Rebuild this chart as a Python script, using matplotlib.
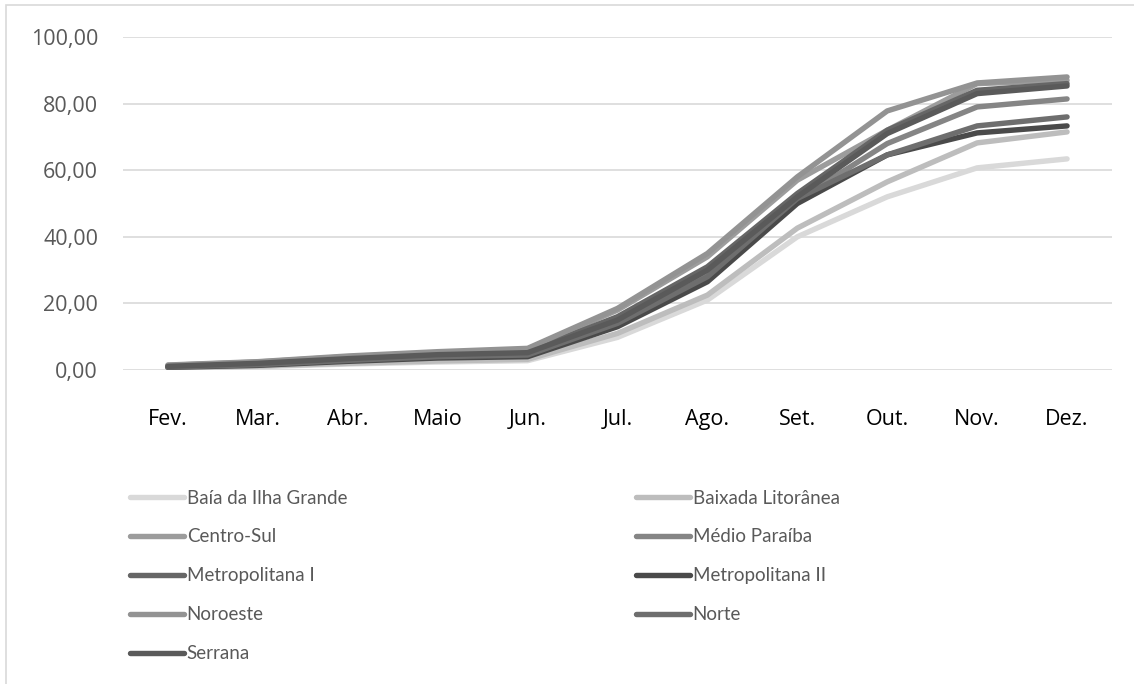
import matplotlib.pyplot as plt
from matplotlib.patches import Rectangle
from matplotlib.lines import Line2D

months = ["Fev.", "Mar.", "Abr.", "Maio", "Jun.", "Jul.", "Ago.", "Set.", "Out.", "Nov.", "Dez."]

# cumulative values per region
baia_ilha_grande = [0.5, 1.0, 1.8, 2.4, 2.8, 9.8, 21.0, 40.0, 52.0, 60.7, 63.4]
baixada_litoranea = [0.6, 1.2, 2.0, 2.7, 3.2, 11.0, 22.5, 42.6, 56.5, 68.2, 71.5]
centro_sul = [1.4, 2.4, 4.0, 5.2, 6.2, 18.0, 34.0, 57.0, 72.0, 86.0, 87.0]
medio_paraiba = [1.0, 1.8, 3.2, 4.3, 5.0, 14.5, 29.0, 51.0, 68.0, 79.0, 81.4]
metropolitana_1 = [1.2, 2.1, 3.6, 4.8, 5.5, 16.0, 31.0, 53.0, 72.0, 84.0, 86.0]
metropolitana_2 = [0.8, 1.4, 2.6, 3.6, 4.0, 13.0, 26.5, 50.0, 64.6, 71.2, 73.3]
noroeste = [1.5, 2.5, 4.2, 5.5, 6.5, 18.5, 35.0, 58.0, 77.8, 86.2, 88.0]
norte = [0.9, 1.6, 2.9, 4.0, 4.5, 14.0, 28.0, 51.5, 64.6, 73.3, 76.0]
serrana = [1.1, 2.0, 3.4, 4.6, 5.2, 15.0, 30.0, 52.0, 71.0, 83.0, 85.3]

series = [
    ("Baía da Ilha Grande", baia_ilha_grande, "#d9d9d9"),
    ("Baixada Litorânea", baixada_litoranea, "#bdbdbd"),
    ("Centro-Sul", centro_sul, "#9c9c9c"),
    ("Médio Paraíba", medio_paraiba, "#858585"),
    ("Metropolitana I", metropolitana_1, "#666666"),
    ("Metropolitana II", metropolitana_2, "#4a4a4a"),
    ("Noroeste", noroeste, "#939393"),
    ("Norte", norte, "#6e6e6e"),
    ("Serrana", serrana, "#5a5a5a"),
]

plt.rcParams['font.family'] = ['Open Sans', 'DejaVu Sans']

fig = plt.figure(figsize=(11.34, 6.84), dpi=100)
ax = fig.add_axes([123 / 1134, 1 - 370 / 684, (1112 - 123) / 1134, 333 / 684])

x = list(range(len(months)))
handles = {}
for name, vals, color in series:
    ln, = ax.plot(x, vals, color=color, lw=3.9, solid_capstyle="round",
                  solid_joinstyle="round", label=name, zorder=3)
    handles[name] = ln

ax.set_xlim(-0.5, len(months) - 0.5)
ax.set_ylim(0, 100)
ax.set_yticks([0, 20, 40, 60, 80, 100])
ax.set_yticklabels(["0,00", "20,00", "40,00", "60,00", "80,00", "100,00"])
ax.set_xticks(x)
ax.set_xticklabels(months)
ax.grid(axis="y", color="#d9d9d9", lw=1.2, zorder=0)
ax.tick_params(axis="y", length=0, pad=18, labelsize=15.5, labelcolor="#595959")
ax.tick_params(axis="x", length=0, pad=28, labelsize=15.5, labelcolor="#000000")
for s in ax.spines.values():
    s.set_visible(False)

# chart frame
fig.patches.append(Rectangle((6 / 1134, -0.1), 1.2, 1 - 5 / 684 + 0.1,
                             transform=fig.transFigure, fill=False,
                             edgecolor="#d9d9d9", lw=1.2, clip_on=False))

left = ["Baía da Ilha Grande", "Centro-Sul", "Metropolitana I", "Noroeste", "Serrana"]
right = ["Baixada Litorânea", "Médio Paraíba", "Metropolitana II", "Norte"]
for names, x0 in ((left, 122 / 1134), (right, 628 / 1134)):
    hs = [Line2D([], [], color=handles[n].get_color(), lw=3.9, solid_capstyle="round") for n in names]
    fig.legend(hs, names, loc="upper left", bbox_to_anchor=(x0, 1 - 482 / 684),
               frameon=False, handlelength=2.9, handletextpad=0.15,
               labelspacing=1.17, labelcolor="#595959", borderaxespad=0,
               prop={'family': ['Lato'], 'size': 13.5})

fig.savefig("out.png", dpi=100, facecolor="white")
